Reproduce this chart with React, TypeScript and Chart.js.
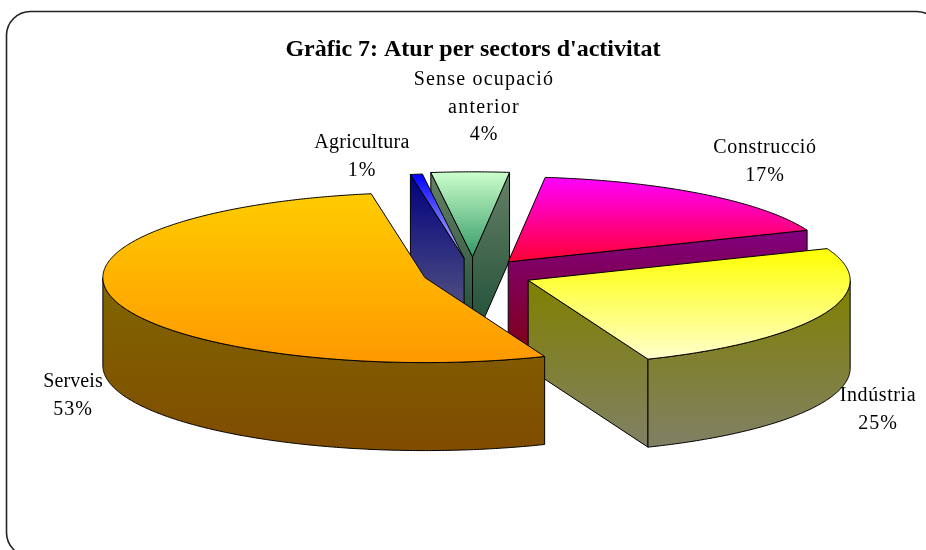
import React, { useEffect, useRef } from "react";
import { Chart, registerables } from "chart.js";

Chart.register(...registerables);

const categories = ["Agricultura", "Sense ocupació\nanterior", "Construcció", "Indústria", "Serveis"];
const values = [0.6, 3.9, 17.1, 25, 53.4];
const titleText = "Gràfic 7: Atur per sectors d'activitat";

const topColorsFrom = ["#0000ff", "#ccffcc", "#ff00ff", "#ffff00", "#ffcc00"];
const topColorsTo = ["#ccccff", "#339966", "#ff0033", "#ffffcc", "#ff9900"];
const wallColorsFrom = ["#000080", "#668066", "#800080", "#808000", "#806600"];
const wallColorsTo = ["#666680", "#1a4c33", "#80001a", "#808066", "#804c00"];
const explodeOffsets = [60, 65, 58, 60, 50];
const drawOrder = [1, 0, 2, 3, 4];
const labelCenters = [
  [362, 143],
  [484, 80],
  [765, 148],
  [878, 396],
  [73, 382],
];
const labelSpacing = [0.3, 1.2, 0.6, 0.6, 0.1];
const PERCENT_SPACING = 1;

const TILT = 0.264;
const DEPTH = 88;
const LINE = 27.5;
const SERIF = '"Liberation Serif", "Times New Roman", serif';

const pie3d = {
  id: "pie3d",
  beforeDraw(chart: any) {
    const { ctx } = chart;
    ctx.save();
    ctx.fillStyle = "#ffffff";
    ctx.fillRect(0, 0, 926, 550);
    ctx.strokeStyle = "#222222";
    ctx.lineWidth = 1.6;
    ctx.beginPath();
    ctx.roundRect(6.5, 11.5, 934, 545, 24);
    ctx.stroke();
    ctx.restore();
  },
  beforeDatasetDraw(chart: any) {
    const { ctx } = chart;
    const arcs = chart.getDatasetMeta(0).data;
    ctx.save();
    ctx.lineWidth = 1;
    ctx.strokeStyle = "#000000";
    ctx.lineJoin = "round";
    drawOrder.forEach((i: number) => {
      const arc = arcs[i];
      const { x, y, startAngle, endAngle, outerRadius } = arc.getProps(["x", "y", "startAngle", "endAngle", "outerRadius"], true);
      const mid = (startAngle + endAngle) / 2;
      const off = arc.options.offset;
      const ax = x + Math.cos(mid) * off;
      const ay = y + Math.sin(mid) * off * TILT;
      const pt = (t: number): [number, number] => [ax + Math.cos(t) * outerRadius, ay + Math.sin(t) * outerRadius * TILT];
      const rim: [number, number][] = [];
      const n = Math.max(2, Math.ceil((endAngle - startAngle) / 0.01));
      for (let j = 0; j <= n; j++) rim.push(pt(startAngle + ((endAngle - startAngle) * j) / n));
      const fillPoly = (pts: [number, number][], from: string, to: string) => {
        const ys = pts.map((p) => p[1]);
        const g = ctx.createLinearGradient(0, Math.min(...ys), 0, Math.max(...ys));
        g.addColorStop(0, from);
        g.addColorStop(1, to);
        ctx.beginPath();
        pts.forEach((p, k) => (k ? ctx.lineTo(p[0], p[1]) : ctx.moveTo(p[0], p[1])));
        ctx.closePath();
        ctx.fillStyle = g;
        ctx.fill();
        ctx.stroke();
      };
      const wall = (p: [number, number]) =>
        fillPoly([[ax, ay], p, [p[0], p[1] + DEPTH], [ax, ay + DEPTH]], wallColorsFrom[i], wallColorsTo[i]);
      if (Math.cos(startAngle) < 0) wall(rim[0]);
      if (Math.cos(endAngle) > 0) wall(rim[rim.length - 1]);
      const front = rim.filter((p) => p[1] >= ay);
      if (front.length > 1) {
        const lower = front.map((p) => [p[0], p[1] + DEPTH] as [number, number]).reverse();
        fillPoly([...front, ...lower], wallColorsFrom[i], wallColorsTo[i]);
      }
      fillPoly([[ax, ay], ...rim], topColorsFrom[i], topColorsTo[i]);
    });
    ctx.restore();
    return false;
  },
  afterDatasetsDraw(chart: any) {
    const { ctx } = chart;
    const total = values.reduce((a, b) => a + b, 0);
    ctx.save();
    ctx.fillStyle = "#000000";
    ctx.font = `20px ${SERIF}`;
    ctx.textAlign = "center";
    ctx.textBaseline = "middle";
    categories.forEach((c, i) => {
      const lines = c.split("\n");
      ctx.letterSpacing = `${labelSpacing[i]}px`;
      lines.forEach((t, k) => ctx.fillText(t, labelCenters[i][0], labelCenters[i][1] + k * LINE));
      ctx.letterSpacing = `${PERCENT_SPACING}px`;
      ctx.fillText(`${Math.round((values[i] / total) * 100)}%`, labelCenters[i][0], labelCenters[i][1] + lines.length * LINE);
    });
    ctx.restore();
  },
};

export default function App() {
  const ref = useRef<HTMLCanvasElement>(null);
  useEffect(() => {
    const chart = new Chart(ref.current!, {
      type: "pie",
      data: {
        labels: categories,
        datasets: [{ data: values, backgroundColor: topColorsFrom, offset: explodeOffsets, borderWidth: 0 }],
      },
      options: {
        responsive: false,
        animation: false,
        rotation: -9.6,
        radius: 322,
        layout: { padding: { left: 20, right: 0, top: 0, bottom: 66.4 } },
        plugins: {
          legend: { display: false },
          tooltip: { enabled: false },
          title: {
            display: true,
            text: titleText,
            color: "#000000",
            font: { family: SERIF, size: 24, weight: "bold" },
            padding: { top: 35.6, bottom: 0 },
          },
        },
      },
      plugins: [pie3d],
    } as any);
    return () => chart.destroy();
  }, []);
  return (
    <canvas
      ref={ref}
      width={926}
      height={550}
      style={{ position: "absolute", left: 0, top: 0, width: 926, height: 550, display: "block" }}
    />
  );
}
